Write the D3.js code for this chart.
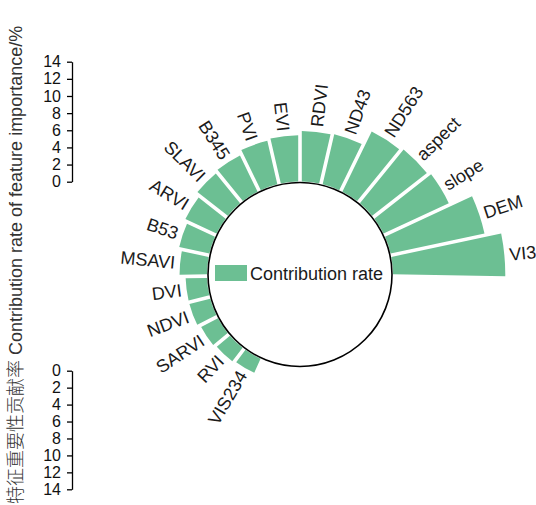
<!DOCTYPE html>
<html>
<head>
<meta charset="utf-8">
<script src="https://cdn.jsdelivr.net/npm/d3@7"></script>
<style>
  body { margin: 0; background: #fff; }
  svg { display: block; font-family: "Liberation Sans", Arial, sans-serif; }
  .axis path, .axis line { stroke: #000; stroke-width: 1.3; }
  .axis text { font-size: 16px; fill: #111; }
</style>
</head>
<body>
<svg id="radial-barchart"></svg>
<script>
// features, ordered clockwise starting at the bottom-left
const features = [
  "VIS234", "RVI", "SARVI", "NDVI", "DVI", "MSAVI", "B53", "ARVI", "SLAVI",
  "B345", "PVI", "EVI", "RDVI", "ND43", "ND563", "aspect", "slope", "DEM", "VI3"
];
// contribution rate of feature importance (%)
const contribution = [
  1.8, 2.0, 2.2, 2.5, 2.5, 3.2, 3.6, 4.0, 4.5,
  4.7, 5.2, 5.4, 5.9, 6.0, 7.8, 8.1, 8.4, 11.2, 13.1
];
const tickValues = [0, 2, 4, 6, 8, 10, 12, 14];

class RadialBarchart {
  constructor(_config, _labels, _values) {
    this.config = {
      parentElement: _config.parentElement,
      containerWidth: _config.containerWidth || 536,
      containerHeight: _config.containerHeight || 505,
      center: _config.center || { x: 300, y: 274.5 },
      innerRadius: _config.innerRadius || 93,
      outerRadius: _config.outerRadius || 213,
      color: _config.color || "#6cbf93",
    };
    this.labels = _labels;
    this.values = _values;
    this.data = _labels.map((d, i) => ({ name: d, value: _values[i] }));
    this.initVis();
  }

  initVis() {
    let vis = this;
    const deg = Math.PI / 180;

    vis.svg = d3
      .select(vis.config.parentElement)
      .attr("width", vis.config.containerWidth)
      .attr("height", vis.config.containerHeight);

    // angle of each bar (radians, clockwise from 12 o'clock)
    vis.xScale = d3
      .scaleBand()
      .domain(vis.labels)
      .range([-156 * deg, 91 * deg]);

    // radial length
    vis.rScale = d3
      .scaleLinear()
      .domain([0, 14])
      .range([vis.config.innerRadius, vis.config.outerRadius]);

    vis.arc = d3
      .arc()
      .innerRadius(vis.config.innerRadius)
      .outerRadius((d) => vis.rScale(d.value))
      .startAngle((d) => vis.xScale(d.name))
      .endAngle((d) => vis.xScale(d.name) + vis.xScale.bandwidth())
      .padAngle(0.036)
      .padRadius(100);

    vis.chart = vis.svg
      .append("g")
      .attr("transform", `translate(${vis.config.center.x},${vis.config.center.y})`);

    // axes on the left: one reading upwards, one mirrored downwards
    const cy = vis.config.center.y;
    vis.yScaleTop = d3.scaleLinear().domain([0, 14]).range([cy - 92.8, cy - 212.8]);
    vis.yScaleBottom = d3.scaleLinear().domain([0, 14]).range([cy + 96.2, cy + 214.8]);
  }

  renderVis() {
    let vis = this;

    vis.chart
      .selectAll(".bar")
      .data(vis.data)
      .join("path")
      .attr("class", "bar")
      .attr("fill", vis.config.color)
      .attr("d", vis.arc);

    // inner circle
    vis.chart
      .append("circle")
      .attr("r", vis.config.innerRadius - 1)
      .attr("fill", "none")
      .attr("stroke", "#000")
      .attr("stroke-width", 1.6);

    // feature labels, rotated along the radius
    vis.chart
      .selectAll(".label")
      .data(vis.data)
      .join("text")
      .attr("class", "label")
      .attr("font-size", 18)
      .attr("fill", "#1a1a1a")
      .attr("dy", "0.35em")
      .attr("text-anchor", (d) => (vis.midAngle(d) >= 0 ? "start" : "end"))
      .attr("transform", (d) => {
        const a = vis.midAngle(d);
        const r = vis.rScale(d.value) + 5;
        const x = r * Math.sin(a);
        const y = -r * Math.cos(a);
        const rot = (a * 180) / Math.PI + (a >= 0 ? -90 : 90);
        return `translate(${x},${y}) rotate(${rot})`;
      })
      .text((d) => d.name);

    // legend inside the circle
    vis.svg
      .append("rect")
      .attr("x", 215)
      .attr("y", 265)
      .attr("width", 32)
      .attr("height", 16)
      .attr("fill", vis.config.color);

    vis.svg
      .append("text")
      .attr("x", 250)
      .attr("y", 280)
      .attr("font-size", 18)
      .attr("fill", "#1a1a1a")
      .text("Contribution rate");

    // axes
    const axisTop = d3.axisLeft(vis.yScaleTop).tickValues(tickValues).tickSize(5).tickSizeOuter(0).tickPadding(6);
    const axisBottom = d3.axisLeft(vis.yScaleBottom).tickValues(tickValues).tickSize(5).tickSizeOuter(0).tickPadding(6);

    vis.svg.append("g").attr("class", "axis").attr("transform", "translate(72,0)").call(axisTop);
    vis.svg.append("g").attr("class", "axis").attr("transform", "translate(72,0)").call(axisBottom);
    vis.svg.selectAll(".axis text").attr("font-family", "'Liberation Sans', Arial, sans-serif");

    // y-axis title
    const title = vis.svg
      .append("text")
      .attr("transform", "translate(22,504) rotate(-90)")
      .attr("font-size", 18)
      .attr("fill", "#333");
    title.append("tspan").attr("font-family", "'Noto Sans CJK SC', sans-serif").attr("font-weight", 300).text("特征重要性贡献率");
    title.append("tspan").text(" Contribution rate of feature importance/%");
  }

  midAngle(d) {
    return this.xScale(d.name) + this.xScale.bandwidth() / 2;
  }
}

const chart = new RadialBarchart({ parentElement: "#radial-barchart" }, features, contribution);
chart.renderVis();
</script>
</body>
</html>
